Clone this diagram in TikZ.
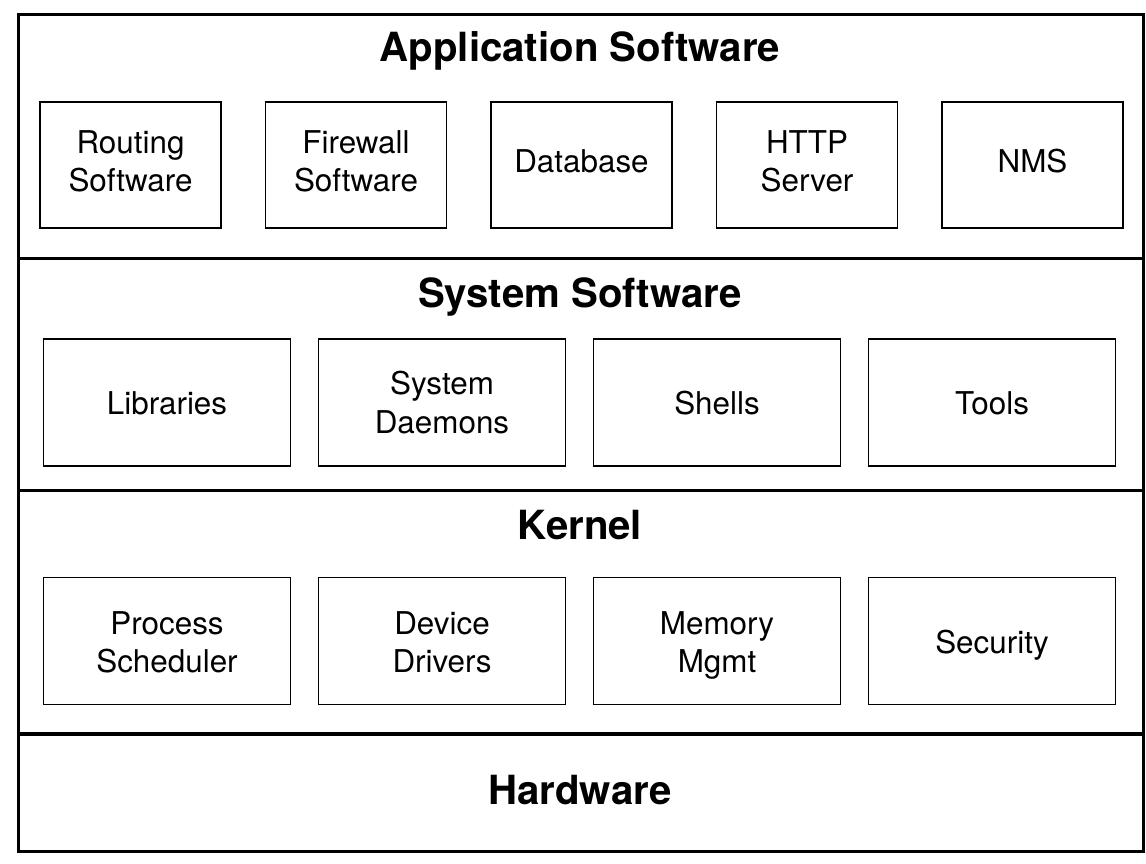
\documentclass[tikz,border=0pt]{standalone}
\usepackage{fontspec}
\setmainfont{TeX Gyre Heros}
\usetikzlibrary{calc}
\begin{document}
\begin{tikzpicture}[x=1pt,y=-1pt,
  layer/.style={draw=black,line width=3.4pt,rectangle,inner sep=0pt,anchor=north west},
  title/.style={font=\fontsize{40.2}{46}\selectfont\bfseries,anchor=base,inner sep=0pt},
  appbox/.style={draw=black,line width=1.7pt,rectangle,inner sep=0pt,minimum width=181pt,minimum height=126pt},
  sysbox/.style={appbox,minimum width=247pt,minimum height=127pt},
  boxtext/.style={inner sep=0pt,align=center,font=\fontsize{31.4}{38.5}\selectfont}]
\useasboundingbox (0,0) rectangle (1146,864);
\fill[white] (0,0) rectangle (1146,864);
% layers
\node[layer,minimum width=1125pt,minimum height=244pt] (app) at (17,13) {};
\node[layer,minimum width=1125pt,minimum height=232pt] (sys) at (17,257) {};
\node[layer,minimum width=1125pt,minimum height=243.5pt] (ker) at (17,488.7) {};
\node[layer,minimum width=1125pt,minimum height=118pt] (hw) at (17,732) {};
% titles
\node[title] (tapp) at (580,61.5) {Application Software};
\node[title] (tsys) at (580,307.5) {System Software};
\node[title] (tker) at (580,539) {Kernel};
\node[title] (thw) at (580,804.5) {Hardware};
% application boxes
\node[appbox] (routing) at (130.5,165.3) {};
\node[appbox] (firewall) at (356,165.3) {};
\node[appbox] (database) at (581.5,165.3) {};
\node[appbox] (http) at (807,165.3) {};
\node[appbox] (nms) at (1032.5,165.3) {};
\node[boxtext] (routing-t) at ($(routing.center)+(0,-0.6)$) {\strut Routing\\\strut Software};
\node[boxtext] (firewall-t) at ($(firewall.center)+(0,-0.6)$) {\strut Firewall\\\strut Software};
\node[boxtext] (database-t) at ($(database.center)+(0,-0.6)$) {\strut Database};
\node[boxtext] (http-t) at ($(http.center)+(0,-0.6)$) {\strut HTTP\\\strut Server};
\node[boxtext] (nms-t) at ($(nms.center)+(0,-0.6)$) {\strut NMS};
% system boxes
\node[sysbox] (libs) at (167,402.7) {};
\node[sysbox] (daemons) at (442,402.7) {};
\node[sysbox] (shells) at (717,402.7) {};
\node[sysbox] (tools) at (992,402.7) {};
\node[boxtext] (libs-t) at ($(libs.center)+(0,3.7)$) {\strut Libraries};
\node[boxtext] (daemons-t) at ($(daemons.center)+(0,3.7)$) {\strut System\\\strut Daemons};
\node[boxtext] (shells-t) at ($(shells.center)+(0,3.7)$) {\strut Shells};
\node[boxtext] (tools-t) at ($(tools.center)+(0,3.7)$) {\strut Tools};
% kernel boxes
\node[sysbox] (sched) at (167,641) {};
\node[sysbox] (drivers) at (442,641) {};
\node[sysbox] (mem) at (717,641) {};
\node[sysbox] (sec) at (992,641) {};
\node[boxtext] (sched-t) at ($(sched.center)+(0,4.9)$) {\strut Process\\\strut Scheduler};
\node[boxtext] (drivers-t) at ($(drivers.center)+(0,4.9)$) {\strut Device\\\strut Drivers};
\node[boxtext] (mem-t) at ($(mem.center)+(0,4.9)$) {\strut Memory\\\strut Mgmt};
\node[boxtext] (sec-t) at ($(sec.center)+(0,4.9)$) {\strut Security};
\end{tikzpicture}
\end{document}
